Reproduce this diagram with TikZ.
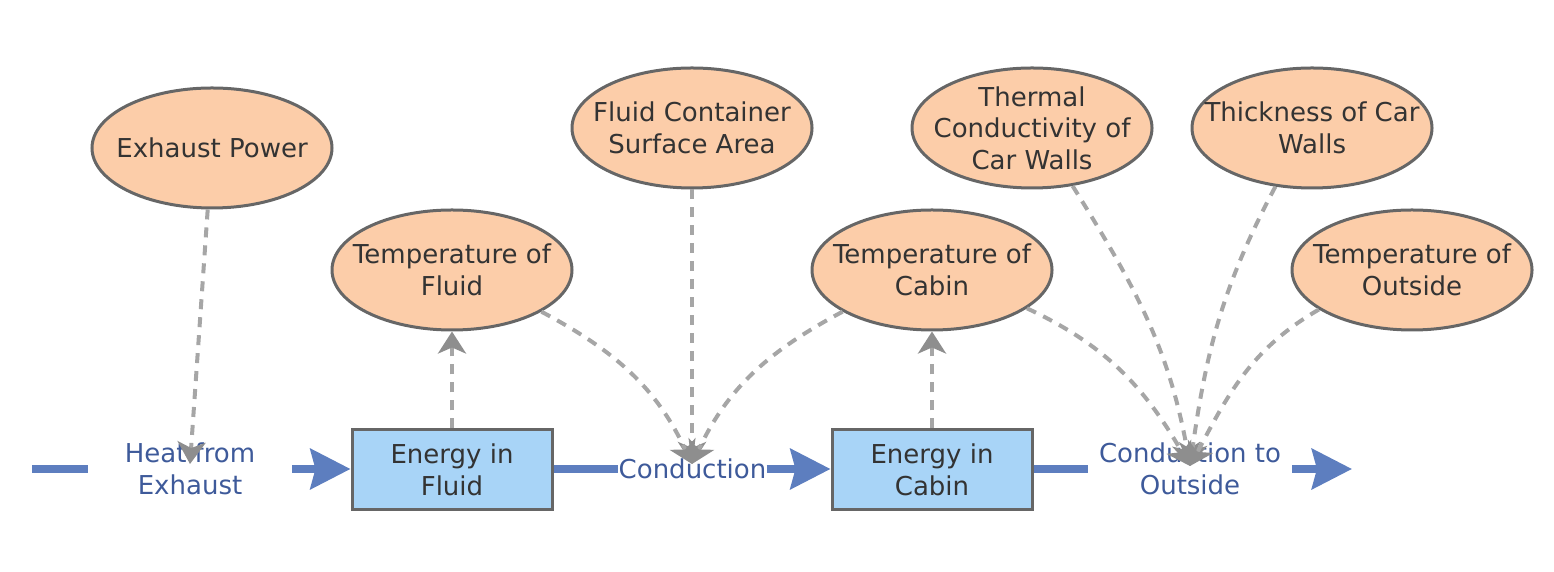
\documentclass[tikz,border=0pt]{standalone}
\usepackage{fontspec}
\setmainfont{DejaVu Sans}
\usetikzlibrary{shapes.geometric,arrows.meta}
\definecolor{peach}{HTML}{FCCDA9}
\definecolor{boxfill}{HTML}{A8D4F7}
\definecolor{edge}{HTML}{666666}
\definecolor{txt}{HTML}{333333}
\definecolor{flowblue}{HTML}{5D7EBF}
\definecolor{flowtxt}{HTML}{3E5A9A}
\definecolor{linkgray}{HTML}{A6A6A6}
\definecolor{arrowgray}{HTML}{8E8E8E}
\newcommand\dfont{\fontsize{26}{31.5}\selectfont}
\begin{document}
\begin{tikzpicture}[x=1pt,y=1pt,
  stock/.style={draw=edge, line width=3pt, fill=boxfill, minimum width=200pt, minimum height=80pt, inner sep=0pt, align=center, font=\dfont, text=txt},
  var/.style={ellipse, draw=edge, line width=3pt, fill=peach, minimum width=240pt, minimum height=120pt, inner sep=0pt},
  vtext/.style={align=center, font=\dfont, text=txt, inner sep=0pt},
  flowlbl/.style={align=center, font=\dfont, text=flowtxt, inner xsep=0pt, inner ysep=2pt},
  flowline/.style={line width=8pt, draw=flowblue},
  flowarrow/.style={flowline, -{Stealth[length=40pt,width=40pt,inset=5pt,fill=flowblue]}},
  link/.style={draw=linkgray, line width=4pt, dash pattern=on 10pt off 8pt, -{Stealth[length=22pt,width=28pt,inset=6pt,fill=arrowgray,color=arrowgray]}}
]
\useasboundingbox (0,0) rectangle (1554,572);

% variables
\node[var, label={[vtext]center:{Exhaust Power}}] (ep) at (212,424) {};
\node[var, label={[vtext]center:{Fluid Container\\Surface Area}}] (fc) at (692,444) {};
\node[var, label={[vtext]center:{Thermal\\Conductivity of\\Car Walls}}] (tc) at (1032,444) {};
\node[var, label={[vtext]center:{Thickness of Car\\Walls}}] (th) at (1312,444) {};
\node[var, label={[vtext]center:{Temperature of\\Fluid}}] (tf) at (452,302) {};
\node[var, label={[vtext]center:{Temperature of\\Cabin}}] (tcab) at (932,302) {};
\node[var, label={[vtext]center:{Temperature of\\Outside}}] (to) at (1412,302) {};

% stocks
\node[stock] (ef) at (452,102) {Energy in\\Fluid};
\node[stock] (ec) at (932,102) {Energy in\\Cabin};

% flows
\coordinate (src) at (32,103);
\coordinate (snk) at (1352,103);
\node[flowlbl, minimum width=204pt] (hfe) at (190,103) {Heat from\\Exhaust};
\node[flowlbl, minimum width=145pt] (cond) at (692.5,103) {Conduction};
\node[flowlbl, minimum width=204pt] (cto) at (1190,103) {Conduction to\\Outside};

\draw[flowline] (src) -- (hfe.west);
\draw[flowarrow] (hfe.east) -- (ef.west |- hfe.east);
\draw[flowline] (ef.east |- cond.west) -- (cond.west);
\draw[flowarrow] (cond.east) -- (ec.west |- cond.east);
\draw[flowline] (ec.east |- cto.west) -- (cto.west);
\draw[flowarrow] (cto.east) -- (snk);

% link targets
\coordinate (hfeIn) at (190,108);
\coordinate (condIn) at (692,108);
\coordinate (ctoIn) at (1190,106);

% links
\draw[link] (ep.-94) -- (hfeIn);
\draw[link] (ef.north) -- (tf.south);
\draw[link] (ec.north) -- (tcab.south);
\draw[link] (fc.south) -- (condIn);
\draw[link] (tf.-25) to[out=-28, in=115] (condIn);
\draw[link] (tcab.-155) to[out=-152, in=65] (condIn);
\draw[link] (tcab.-22) to[out=-25, in=120] (ctoIn);
\draw[link] (tc.-55) to[out=-58, in=100] (ctoIn);
\draw[link] (th.-122) to[out=-118, in=82] (ctoIn);
\draw[link] (to.-157) to[out=-150, in=62] (ctoIn);
\end{tikzpicture}
\end{document}
